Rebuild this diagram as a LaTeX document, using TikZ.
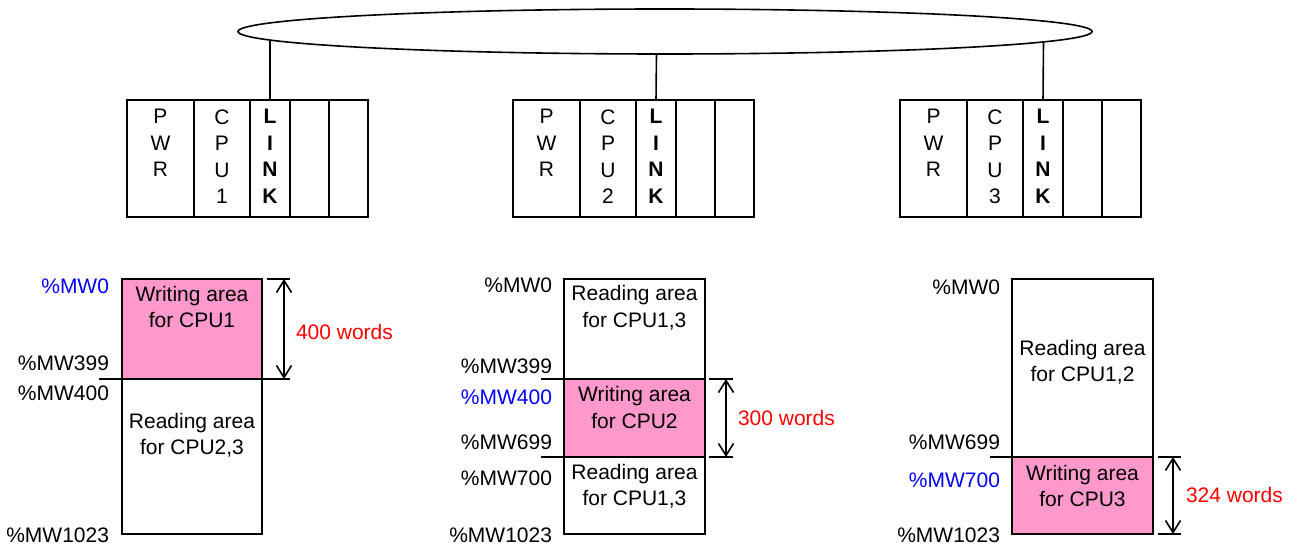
\documentclass[tikz,border=0pt]{standalone}
\usepackage{fontspec}
\setmainfont{Liberation Sans}
\usetikzlibrary{arrows.meta,shapes.geometric}
\definecolor{pinkfill}{HTML}{FF99CC}
\definecolor{addrblue}{HTML}{0000FF}
\definecolor{wordred}{HTML}{FF0000}
\tikzset{
  every node/.style={inner sep=0pt, outer sep=0pt, font=\fontsize{21bp}{26.5bp}\selectfont},
  ln/.style={draw=black, line width=1.6bp},
  slot/.style={rectangle, ln, minimum height=117bp, anchor=north west},
  region/.style={rectangle, ln, minimum width=141bp, anchor=north west},
  txt/.style={anchor=north, align=center},
  addr/.style={anchor=base east},
  waddr/.style={anchor=base east, text=addrblue},
  words/.style={anchor=base west, text=wordred},
  dimarrow/.style={ln, {Straight Barb[length=12bp,width=15bp]}-{Straight Barb[length=12bp,width=15bp]}},
}
\newcommand\plcrack[3]{%
  \node[slot, minimum width=67bp] (#2pwr) at (#1,100) {};
  \node[slot, minimum width=56bp] (#2cpu) at ({#1+67},100) {};
  \node[slot, minimum width=40bp] (#2link) at ({#1+123},100) {};
  \node[slot, minimum width=39bp] (#2e1) at ({#1+163},100) {};
  \node[slot, minimum width=39bp] (#2e2) at ({#1+202},100) {};
  \node[txt] (#2pwrt) at ({#1+33.5},109.5) {P\\W\\R};
  \node[txt] (#2cput) at ({#1+95},109.5) {C\\P\\U\\#3};
  \node[txt, font=\fontsize{21bp}{26.5bp}\selectfont\bfseries] (#2linkt) at ({#1+143},109.5) {L\\I\\N\\K};
}
\begin{document}
\begin{tikzpicture}[x=1bp,y=-1bp]
\useasboundingbox (0,0) rectangle (1299,546);

% network bus
\node[ellipse, ln, minimum width=854bp, minimum height=45bp] (bus) at (665,31.5) {};

% racks
\plcrack{127}{ra}{1}
\plcrack{513}{rb}{2}
\plcrack{900}{rc}{3}

\coordinate (ea) at (270,40.1);
\coordinate (eb) at (656.5,54);
\coordinate (ec) at (1043.5,41.9);
\draw[ln] (ralink.north) -- (ea);
\draw[ln] (rblink.north) -- (eb);
\draw[ln] (rclink.north) -- (ec);

% ---------- memory CPU1 ----------
\node[region, fill=pinkfill, minimum width=140bp, minimum height=100bp] (m1w) at (122,279) {};
\node[region, minimum width=140bp, minimum height=155bp] (m1r) at (122,379) {};
\node[txt] (t1w) at (192,286) {Writing area\\for CPU1};
\node[txt] (t1r) at (192,413) {Reading area\\for CPU2,3};
\coordinate (d1a) at (99,379); \coordinate (d1b) at (290,379);
\draw[ln] (d1a) -- (d1b);
\coordinate (k1a) at (267,279); \coordinate (k1b) at (290,279);
\draw[ln] (k1a) -- (k1b);
\coordinate (a1t) at (284,279); \coordinate (a1b) at (284,379);
\draw[dimarrow] (a1t) -- (a1b);
\node[words] (w1) at (296,339) {400 words};
\node[waddr] (l1a) at (109,293) {\%MW0};
\node[addr] (l1b) at (109,370) {\%MW399};
\node[addr] (l1c) at (109,400) {\%MW400};
\node[addr] (l1d) at (109,542) {\%MW1023};

% ---------- memory CPU2 ----------
\node[region, minimum height=100bp] (m2r1) at (564,279) {};
\node[region, fill=pinkfill, minimum height=78bp] (m2w) at (564,379) {};
\node[region, minimum height=77bp] (m2r2) at (564,457) {};
\node[txt] (t2r1) at (634.5,285.7) {Reading area\\for CPU1,3};
\node[txt] (t2w) at (634.5,386.7) {Writing area\\for CPU2};
\node[txt] (t2r2) at (634.5,464) {Reading area\\for CPU1,3};
\coordinate (d2a) at (541,379); \coordinate (d2b) at (705,379);
\coordinate (d2c) at (541,457); \coordinate (d2d) at (705,457);
\draw[ln] (d2a) -- (d2b);
\draw[ln] (d2c) -- (d2d);
\coordinate (k2a) at (709,379); \coordinate (k2b) at (733,379);
\coordinate (k2c) at (709,457); \coordinate (k2d) at (733,457);
\draw[ln] (k2a) -- (k2b);
\draw[ln] (k2c) -- (k2d);
\coordinate (a2t) at (726,379); \coordinate (a2b) at (726,457);
\draw[dimarrow] (a2t) -- (a2b);
\node[words] (w2) at (738,425) {300 words};
\node[addr] (l2a) at (552,292) {\%MW0};
\node[addr] (l2b) at (552,373) {\%MW399};
\node[waddr] (l2c) at (552,404) {\%MW400};
\node[addr] (l2d) at (552,449) {\%MW699};
\node[addr] (l2e) at (552,485) {\%MW700};
\node[addr] (l2f) at (552,542) {\%MW1023};

% ---------- memory CPU3 ----------
\node[region, minimum height=178bp] (m3r) at (1012,279) {};
\node[region, fill=pinkfill, minimum height=77bp] (m3w) at (1012,457) {};
\node[txt] (t3r) at (1082.5,340) {Reading area\\for CPU1,2};
\node[txt] (t3w) at (1082.5,465) {Writing area\\for CPU3};
\coordinate (d3a) at (990,457); \coordinate (d3b) at (1153,457);
\draw[ln] (d3a) -- (d3b);
\coordinate (k3a) at (1158,457); \coordinate (k3b) at (1181,457);
\coordinate (k3c) at (1158,534); \coordinate (k3d) at (1181,534);
\draw[ln] (k3a) -- (k3b);
\draw[ln] (k3c) -- (k3d);
\coordinate (a3t) at (1173,457); \coordinate (a3b) at (1173,534);
\draw[dimarrow] (a3t) -- (a3b);
\node[words] (w3) at (1186,502) {324 words};
\node[addr] (l3a) at (1000,294) {\%MW0};
\node[addr] (l3b) at (1000,449) {\%MW699};
\node[waddr] (l3c) at (1000,487) {\%MW700};
\node[addr] (l3d) at (1000,542) {\%MW1023};
\end{tikzpicture}
\end{document}
